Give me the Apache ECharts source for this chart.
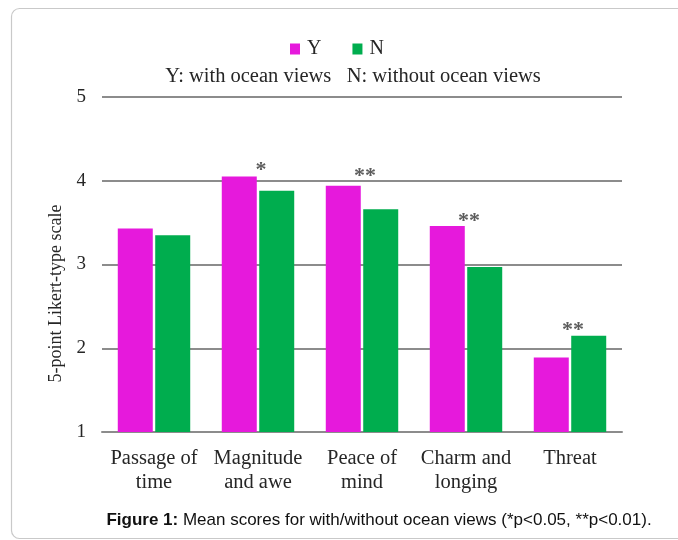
<!DOCTYPE html>
<html>
<head>
<meta charset="utf-8">
<script src="https://cdn.jsdelivr.net/npm/echarts@6/dist/echarts.min.js"></script>
<style>
html,body{margin:0;padding:0;background:#fff;}
#chart{width:678px;height:540px;}
</style>
</head>
<body>
<div id="chart"></div>
<script>
const categories = ['Passage of\ntime', 'Magnitude\nand awe', 'Peace of\nmind', 'Charm and\nlonging', 'Threat'];
const seriesNames = ['Y', 'N'];
const valuesY = [3.43, 4.05, 3.94, 3.46, 1.89];
const valuesN = [3.35, 3.88, 3.66, 2.97, 2.15];
const sigMarks = ['', '*', '**', '**', '**'];
const sigLevels = [null, 4.12, 4.05, 3.52, 2.22];
const yTicks = [1, 2, 3, 4, 5];
const subtitle = 'Y: with ocean views   N: without ocean views';
const caption = 'Mean scores for with/without ocean views (*p<0.05, **p<0.01).';
const captionLabel = 'Figure 1:';

const serif = '"Liberation Serif", "Times New Roman", serif';
const sans = '"Liberation Sans", Arial, sans-serif';
const textColor = '#262626';

const sigData = [];
sigLevels.forEach((v, i) => {
  if (v !== null) sigData.push({value: [i, v], label: {formatter: sigMarks[i]}});
});

const chart = echarts.init(document.getElementById('chart'), null, {renderer: 'canvas'});
chart.setOption({
  backgroundColor: '#ffffff',
  animation: false,
  graphic: [
    {
      type: 'rect', left: 9, top: 6, silent: true,
      shape: {x: 0, y: 0, width: 700, height: 530, r: 8},
      style: {fill: 'none', stroke: '#c9c9c9', lineWidth: 1.2}
    },
    {
      type: 'text', x: 353, y: 77,
      style: {text: subtitle, font: '20.5px ' + serif, fill: textColor, align: 'center', verticalAlign: 'middle'}
    },
    {
      type: 'text', x: 379, y: 520,
      style: {
        text: '{b|' + captionLabel + '} ' + caption,
        rich: {b: {fontWeight: 'bold', fontFamily: sans, fontSize: 17, fill: '#111'}},
        fontFamily: sans, fontSize: 17, fill: '#111',
        align: 'center', verticalAlign: 'middle'
      }
    }
  ],
  legend: {
    data: seriesNames,
    left: 285, top: 34,
    itemWidth: 10, itemHeight: 11, itemGap: 31,
    icon: 'rect',
    textStyle: {fontFamily: serif, fontSize: 20, color: textColor, padding: [0, 0, 0, 2]}
  },
  grid: {left: 102, right: 56, top: 97, bottom: 108, containLabel: false},
  xAxis: {
    type: 'category',
    data: categories,
    axisTick: {show: false},
    axisLine: {show: true, lineStyle: {color: '#8c8c8c', width: 2}},
    axisLabel: {fontFamily: serif, fontSize: 20.5, color: textColor, lineHeight: 24, margin: 15, interval: 0}
  },
  yAxis: {
    type: 'value',
    min: yTicks[0], max: yTicks[yTicks.length - 1], interval: 1,
    name: '5-point Likert-type scale',
    nameLocation: 'middle',
    nameGap: 33,
    nameTextStyle: {fontFamily: serif, fontSize: 18, color: textColor, padding: [0, 58, 0, 0]},
    axisLine: {show: false},
    axisTick: {show: false},
    axisLabel: {fontFamily: serif, fontSize: 19, color: textColor, margin: 16},
    splitLine: {lineStyle: {color: '#8c8c8c', width: 2}}
  },
  series: [
    {
      name: seriesNames[0], type: 'bar', data: valuesY,
      barWidth: 35, barGap: '7%',
      itemStyle: {color: '#e619dc'}
    },
    {
      name: seriesNames[1], type: 'bar', data: valuesN,
      barWidth: 35, barGap: '7%',
      itemStyle: {color: '#00ad4e'}
    },
    {
      name: 'sig', type: 'scatter',
      data: sigData,
      symbol: 'circle', symbolSize: 2,
      itemStyle: {color: 'rgba(0,0,0,0)'},
      label: {show: true, position: 'inside', offset: [3, 0], fontFamily: serif, fontSize: 22, fontWeight: 'bold', color: '#333'},
      silent: true, z: 5
    }
  ]
});
</script>
</body>
</html>
